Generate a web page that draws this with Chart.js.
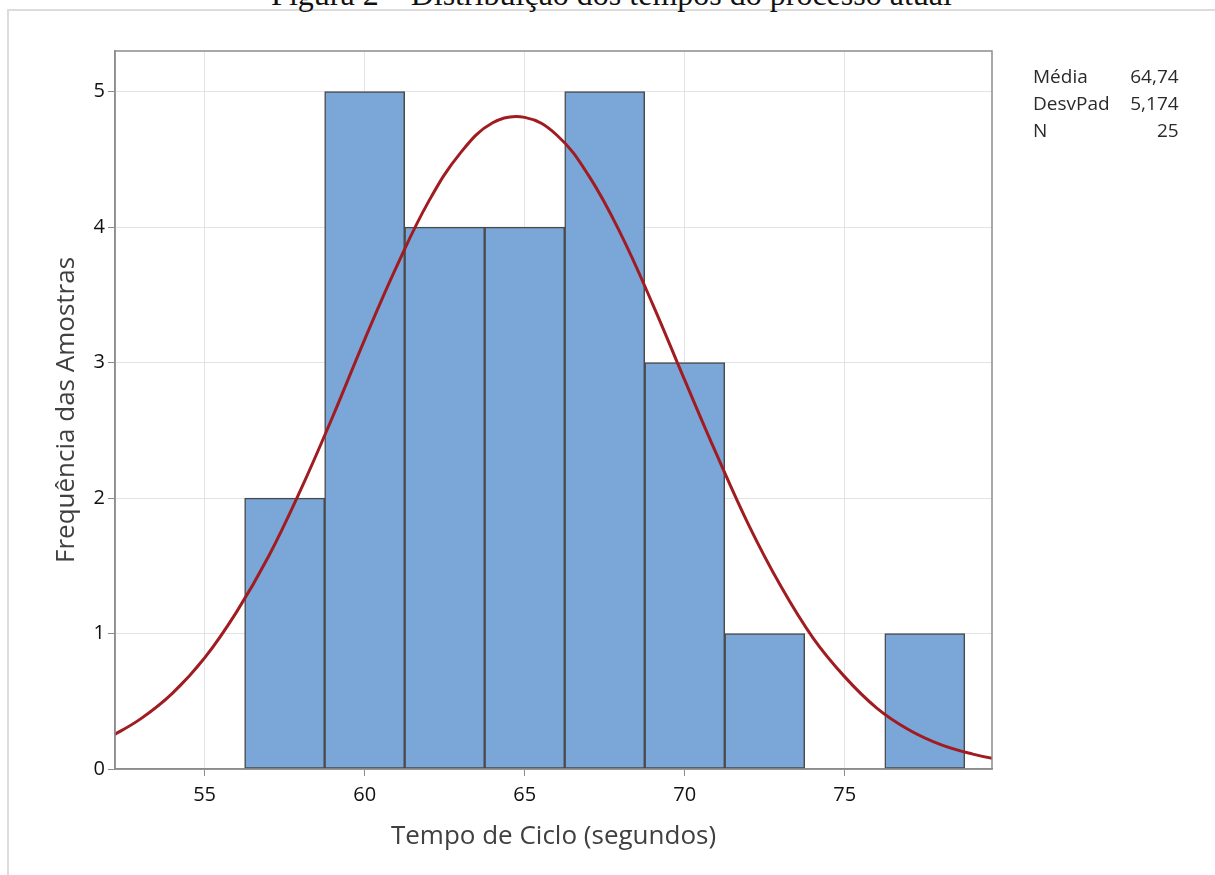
<!DOCTYPE html>
<html>
<head>
<meta charset="utf-8">
<script src="https://cdn.jsdelivr.net/npm/chart.js@4"></script>
<style>
  html, body { margin: 0; padding: 0; background: #fff; }
  body { width: 1215px; height: 875px; position: relative; overflow: hidden; }
  #frame { position: absolute; left: 7px; top: 9px; right: 0; bottom: 0;
           border-top: 2px solid #dcdcdc; border-left: 2px solid #dcdcdc; }
  #caption { position: absolute; left: 0; top: -22px; width: 1223px; text-align: center;
             font: 32px/32px "Liberation Serif", serif; color: #111; white-space: nowrap; }
  #wrap { position: absolute; left: 0; top: 0; width: 1215px; height: 875px; }
  #stats { position: absolute; left: 1033px; top: 63px; border-collapse: collapse;
           font: 19px "Open Sans", sans-serif; color: #2a2a2a; }
  #stats td { padding: 0; height: 27px; line-height: 27px; }
  #stats td.v { text-align: right; width: 69px; }
</style>
</head>
<body>
<div id="frame"></div>
<div id="caption">Figura 2 – Distribuição dos tempos do processo atual</div>
<div id="wrap"><canvas id="hist"></canvas></div>
<table id="stats">
  <tr><td>Média</td><td class="v">64,74</td></tr>
  <tr><td>DesvPad</td><td class="v">5,174</td></tr>
  <tr><td>N</td><td class="v">25</td></tr>
</table>
<script>
(() => {
  'use strict'

  // histogram bins (centres, width 2.5) and counts
  const binCenters = [57.5, 60, 62.5, 65, 67.5, 70, 72.5, 75, 77.5]
  const counts = [2, 5, 4, 4, 5, 3, 1, 0, 1]

  // fitted normal curve
  const curveX = [52, 53, 54, 55, 56, 57, 58, 59, 60, 61, 62, 63, 64, 65, 66, 67, 68, 69, 70,
    71, 72, 73, 74, 75, 76, 77, 78, 79, 80]
  const curveY = [0.23, 0.37, 0.56, 0.82, 1.16, 1.57, 2.06, 2.60, 3.17, 3.71, 4.19, 4.55, 4.77, 4.81,
    4.68, 4.38, 3.95, 3.43, 2.87, 2.32, 1.80, 1.35, 0.97, 0.68, 0.45, 0.29, 0.18, 0.11, 0.06]

  const xTicks = [55, 60, 65, 70, 75]
  const yTicks = [0, 1, 2, 3, 4, 5]

  const tickFont = { family: 'Open Sans', size: 20 }
  const titleFont = { family: 'Open Sans', size: 26 }

  // gray box round the plot area
  const plotFrame = {
    id: 'plotFrame',
    afterDatasetsDraw(chart) {
      const { ctx, chartArea: a } = chart
      ctx.save()
      ctx.strokeStyle = '#8c8c8c'
      ctx.lineWidth = 1.5
      ctx.strokeRect(a.left, a.top, a.right - a.left, a.bottom - a.top)
      ctx.restore()
    }
  }

  const hist = document.getElementById('hist')
  // eslint-disable-next-line no-unused-vars
  const histChart = new Chart(hist, {
    type: 'bar',
    data: {
      datasets: [{
        type: 'line',
        data: curveX.map((x, i) => ({ x: x, y: curveY[i] })),
        borderColor: '#a01c20',
        borderWidth: 3,
        pointRadius: 0,
        tension: 0.4,
        fill: false,
        order: 0
      }, {
        type: 'bar',
        data: binCenters.map((x, i) => ({ x: x, y: counts[i] })),
        backgroundColor: '#7ba6d8',
        borderColor: '#4a4a4a',
        borderWidth: 1.5,
        borderSkipped: false,
        barPercentage: 1,
        categoryPercentage: 1,
        order: 1
      }]
    },
    options: {
      responsive: true,
      maintainAspectRatio: false,
      animation: false,
      layout: {
        padding: { left: 0, top: 51, right: 223, bottom: 0 }
      },
      plugins: {
        legend: { display: false },
        tooltip: { enabled: false }
      },
      scales: {
        x: {
          type: 'linear',
          min: 52.2,
          max: 79.6,
          offset: false,
          afterFit: (s) => { s.height = 106 },
          afterBuildTicks: (s) => { s.ticks = xTicks.map(v => ({ value: v })) },
          ticks: { font: tickFont, color: '#111', padding: 7 },
          grid: { color: '#e3e3e3', tickColor: '#8c8c8c', tickLength: 7, offset: false },
          border: { color: '#8c8c8c', width: 1.5 },
          title: {
            display: true,
            text: 'Tempo de Ciclo (segundos)',
            font: titleFont,
            color: '#404040',
            padding: { top: 0, bottom: 23 }
          }
        },
        y: {
          min: 0,
          max: 5.3,
          afterFit: (s) => { s.width = 115 },
          afterBuildTicks: (s) => { s.ticks = yTicks.map(v => ({ value: v })) },
          ticks: { font: tickFont, color: '#111', padding: 3 },
          grid: { color: '#e3e3e3', tickColor: '#8c8c8c', tickLength: 7 },
          border: { color: '#8c8c8c', width: 1.5 },
          title: {
            display: true,
            text: 'Frequência das Amostras',
            font: titleFont,
            color: '#404040',
            padding: { top: 51, bottom: 0 }
          }
        }
      }
    },
    plugins: [plotFrame]
  })
})()
</script>
</body>
</html>
